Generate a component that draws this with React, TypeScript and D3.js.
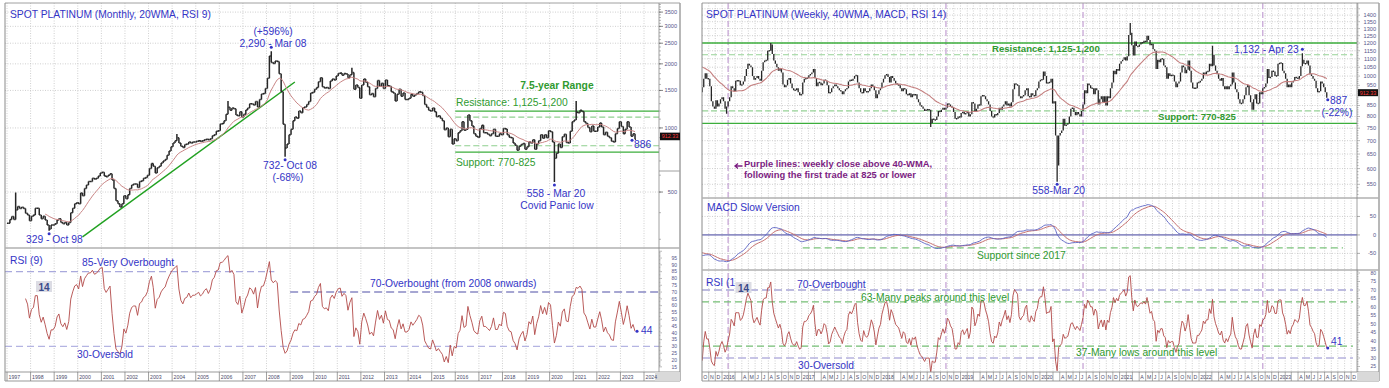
import React from "react";
import * as d3 from "d3";

const FONT = "'Liberation Sans', Arial, Helvetica, sans-serif";
const BLUE = "#3434c6";
const GREEN = "#2f9a2f";
const GREEN_LINE = "#3cae3c";
const PURPLE = "#7c1e82";
const BAR = "#262626";

// ---------------- LEFT: monthly spot platinum closes ----------------
const monthlyStartYear = 1997;
const monthly1997 = [357, 372, 384, 372, 412, 428, 419, 424, 418, 398, 390, 367];
const monthly1998 = [385, 390, 420, 420, 390, 375, 385, 370, 350, 335, 350, 350];
const monthly1999 = [355, 370, 375, 360, 355, 360, 350, 360, 400, 420, 440, 445];
const monthly2000 = [440, 495, 480, 520, 540, 560, 560, 580, 575, 580, 595, 615];
const monthly2001 = [620, 595, 590, 600, 610, 570, 520, 455, 440, 425, 440, 480];
const monthly2002 = [465, 485, 520, 540, 545, 545, 525, 560, 565, 580, 585, 600];
const monthly2003 = [645, 680, 660, 615, 650, 660, 685, 700, 710, 745, 780, 815];
const monthly2004 = [850, 870, 900, 850, 820, 810, 835, 840, 860, 850, 860, 860];
const monthly2005 = [865, 870, 865, 870, 880, 885, 880, 890, 920, 930, 965, 970];
const monthly2006 = [1045, 1050, 1080, 1160, 1250, 1210, 1240, 1230, 1150, 1140, 1190, 1125];
const monthly2007 = [1160, 1215, 1240, 1300, 1295, 1280, 1330, 1255, 1360, 1445, 1450, 1530];
const monthly2008 = [1710, 2180, 2030, 2005, 2065, 2050, 1795, 1480, 1040, 805, 840, 930];
const monthly2009 = [985, 1080, 1125, 1110, 1200, 1180, 1245, 1255, 1290, 1330, 1460, 1470];
const monthly2010 = [1520, 1550, 1650, 1720, 1560, 1540, 1550, 1530, 1660, 1700, 1680, 1755];
const monthly2011 = [1800, 1810, 1770, 1800, 1790, 1720, 1780, 1820, 1520, 1590, 1550, 1380];
const monthly2012 = [1590, 1700, 1640, 1560, 1430, 1450, 1400, 1530, 1670, 1570, 1620, 1530];
const monthly2013 = [1680, 1580, 1570, 1480, 1460, 1340, 1440, 1520, 1410, 1460, 1360, 1360];
const monthly2014 = [1380, 1440, 1410, 1430, 1450, 1480, 1470, 1420, 1290, 1250, 1210, 1200];
const monthly2015 = [1240, 1190, 1130, 1140, 1110, 1080, 980, 1000, 910, 985, 840, 890];
const monthly2016 = [870, 950, 970, 1070, 975, 985, 1150, 1080, 1020, 940, 915, 905];
const monthly2017 = [995, 1030, 950, 950, 935, 920, 940, 985, 915, 915, 940, 930];
const monthly2018 = [995, 990, 930, 905, 900, 850, 830, 785, 820, 835, 845, 795];
const monthly2019 = [815, 860, 850, 880, 795, 840, 870, 930, 895, 930, 900, 970];
const monthly2020 = [960, 860, 720, 760, 840, 810, 910, 935, 855, 850, 965, 1070];
const monthly2021 = [1090, 1185, 1180, 1210, 1195, 1070, 1050, 1005, 960, 1020, 965, 965];
const monthly2022 = [1010, 1055, 1010, 930, 955, 915, 900, 865, 860, 940, 995, 1070];
const monthly2023 = [1015, 940, 985, 1070, 1010, 915, 940, 886];

// intramonth extremes visible on the chart
const monthlyExtremes = [
  { month: "1997-05", high: 497 },
  { month: "1998-10", low: 329 },
  { month: "2004-03", high: 937 },
  { month: "2006-05", high: 1340 },
  { month: "2008-03", high: 2290 },
  { month: "2008-10", low: 732 },
  { month: "2011-08", high: 1918 },
  { month: "2020-03", low: 558 },
  { month: "2021-02", high: 1340 },
];
const monthlyTrendline = [
  { month: "2000-03", price: 308 },
  { month: "2009-03", price: 1644 },
];
const rangeLevelsSolid = [770, 1200];
const rangeLevelsDashed = [825, 1125];
const monthlyRangeStart = "2016-01";
const monthlyPriceTicks = [500, 1000, 1500, 2000, 2500, 3000, 3500];
const monthlyRsiTicks = [95, 90, 85, 80, 75, 70, 65, 60, 55, 50, 45, 40, 35, 30, 25, 20, 15];
const monthlyYearLabels = d3.range(1997, 2025);

// ---------------- RIGHT: weekly spot platinum closes (Fridays) ----------------
// 2015: first 39 weeks (Jan 2 - Sep 25) precede the visible window
const weekly2015 = [
  1210, 1245, 1265, 1280, 1260, 1230, 1200, 1165, 1195, 1170, 1115, 1120, 1140,
  1150, 1160, 1160, 1140, 1150, 1150, 1140, 1120, 1110, 1110, 1090, 1090, 1080,
  1080, 1040, 990, 980, 990, 990, 1000, 1000, 1020, 1010, 980, 970, 915,
  940, 985, 1015, 985, 985, 945, 870, 845, 835, 875, 845, 860, 880,
];
const weekly2016 = [
  890, 870, 835, 845, 870, 890, 945, 935, 920, 975, 975, 975, 950,
  955, 970, 1000, 1040, 1070, 1060, 1050, 1000, 980, 990, 1000, 985, 975,
  1030, 1080, 1090, 1090, 1150, 1150, 1190, 1130, 1090, 1070, 1050, 1030, 1045, 1020,
  955, 940, 950, 980, 990, 960, 935, 925, 925, 935, 915, 900, 905,
];
const weekly2017 = [
  965, 985, 985, 990, 1005, 1010, 1020, 1040, 990, 945, 965, 965, 950,
  960, 980, 975, 950, 910, 915, 935, 945, 955, 945, 935, 925, 920,
  905, 920, 930, 935, 970, 980, 975, 985, 1000, 1005, 965, 935, 915,
  910, 935, 920, 915, 920, 935, 955, 945, 925, 885, 905, 925, 935,
];
const weekly2018 = [
  965, 985, 1005, 1010, 995, 965, 1000, 990, 975, 960, 955, 950, 935,
  920, 935, 930, 905, 900, 910, 890, 905, 900, 905, 880, 865, 850,
  845, 835, 825, 830, 830, 830, 772, 790, 785, 785, 800, 825, 820,
  830, 840, 830, 840, 860, 855, 845, 840, 820, 790, 790, 800, 795,
];
const weekly2019 = [
  815, 820, 810, 815, 820, 800, 810, 865, 860, 825, 835, 855, 850,
  895, 900, 895, 880, 870, 855, 825, 800, 795, 810, 805, 815, 840,
  830, 845, 855, 870, 850, 860, 845, 865, 930, 960, 955, 950, 895,
  885, 895, 900, 925, 935, 895, 890, 910, 900, 895, 925, 935, 970,
];
const weekly2020 = [
  980, 980, 1025, 1000, 960, 965, 965, 985, 860, 870, 720, 610, 720,
  730, 740, 790, 760, 765, 770, 800, 835, 840, 820, 805, 820, 810,
  800, 825, 855, 925, 910, 960, 950, 935, 935, 905, 935, 925, 855,
  880, 895, 865, 895, 850, 895, 885, 935, 965, 1030, 1010, 1040, 1030,
];
const weekly2021 = [
  1070, 1085, 1095, 1110, 1090, 1115, 1255, 1270, 1185, 1120, 1210, 1180, 1175,
  1190, 1205, 1200, 1215, 1205, 1250, 1220, 1185, 1195, 1160, 1150, 1040, 1095,
  1080, 1100, 1100, 1060, 1050, 985, 1015, 1000, 1005, 1005, 970, 940, 960,
  970, 1020, 1060, 1050, 1015, 1035, 1090, 1030, 965, 935, 935, 935, 965, 965,
];
const weekly2022 = [
  975, 985, 1020, 1010, 1025, 1025, 1070, 1055, 1125, 1060, 1030, 1010,
  985, 975, 990, 945, 930, 945, 930, 945, 955, 1020, 965, 930, 915,
  880, 860, 860, 880, 900, 940, 950, 900, 865, 830, 880, 905, 860, 860,
  915, 905, 935, 940, 960, 1040, 990, 995, 1030, 1025, 1000, 1000, 1070,
];
const weekly2023 = [
  1075, 1075, 1030, 1015, 985, 940, 955, 940, 965, 975, 995, 990, 985,
  1000, 1055, 1095, 1070, 1070, 1090, 1060, 1010, 1000, 985, 975, 935, 915,
  920, 970, 960, 940, 915, 887,
];
const weeklyExtremes = [
  { week: "2016-01-22", low: 812 },
  { week: "2016-08-12", high: 1200 },
  { week: "2018-08-17", low: 755 },
  { week: "2020-03-20", low: 558 },
  { week: "2021-02-19", high: 1340 },
  { week: "2022-03-04", high: 1183 },
  { week: "2023-04-21", high: 1134 },
];
const purpleLineWeeks = ["2016-01-29", "2018-10-26", "2020-07-17", "2022-10-21"];
const weeklyPriceTicks = [550, 600, 650, 700, 750, 800, 850, 950, 1000, 1050, 1100, 1150, 1200, 1250, 1300, 1350, 1400];
const weeklyGridPrices = d3.range(550, 1500, 50);
const macdTicks = [50, 0, -50];
const macdSupport = -35;
const macdSupportStart = "2017-01-06";
const weeklyRsiTicks = [80, 75, 70, 65, 60, 55, 50, 45, 40, 35, 30, 25];
const monthLetters = ["J", "F", "M", "A", "M", "J", "J", "A", "S", "O", "N", "D"];
const lastPriceTag = "912.33";

// ---------------- helpers ----------------
const monthlyCloses = [
  ...monthly1997, ...monthly1998, ...monthly1999, ...monthly2000, ...monthly2001, ...monthly2002,
  ...monthly2003, ...monthly2004, ...monthly2005, ...monthly2006, ...monthly2007, ...monthly2008,
  ...monthly2009, ...monthly2010, ...monthly2011, ...monthly2012, ...monthly2013, ...monthly2014,
  ...monthly2015, ...monthly2016, ...monthly2017, ...monthly2018, ...monthly2019, ...monthly2020,
  ...monthly2021, ...monthly2022, ...monthly2023,
];
const weeklyCloses = [
  ...weekly2015, ...weekly2016, ...weekly2017, ...weekly2018, ...weekly2019,
  ...weekly2020, ...weekly2021, ...weekly2022, ...weekly2023,
];
const WEEK0 = Date.UTC(2015, 0, 2);
const DAY = 864e5;
const monthIdx = (s: string) => {
  const [y, m] = s.split("-").map(Number);
  return (y - monthlyStartYear) * 12 + (m - 1);
};
const weekIdx = (s: string) => {
  const [y, m, d] = s.split("-").map(Number);
  return Math.round((Date.UTC(y, m - 1, d) - WEEK0) / (7 * DAY));
};
const utc = (s: string) => {
  const [y, m, d] = s.split("-").map(Number);
  return new Date(Date.UTC(y, m - 1, d || 1));
};

type Bar = { date: Date; o: number; h: number; l: number; c: number };
function makeBars(closes: number[], dateOf: (i: number) => Date): Bar[] {
  return closes.map((c, i) => {
    const o = i > 0 ? closes[i - 1] : c;
    return { date: dateOf(i), o, c, h: Math.max(o, c), l: Math.min(o, c) };
  });
}
function rsi(c: number[], n: number): (number | null)[] {
  const out: (number | null)[] = c.map(() => null);
  let g = 0, l = 0;
  for (let i = 1; i <= n; i++) {
    const d = c[i] - c[i - 1];
    if (d > 0) g += d; else l -= d;
  }
  g /= n; l /= n;
  out[n] = l === 0 ? 100 : 100 - 100 / (1 + g / l);
  for (let i = n + 1; i < c.length; i++) {
    const d = c[i] - c[i - 1];
    g = (g * (n - 1) + Math.max(d, 0)) / n;
    l = (l * (n - 1) + Math.max(-d, 0)) / n;
    out[i] = l === 0 ? 100 : 100 - 100 / (1 + g / l);
  }
  return out;
}
function lwma(c: number[], n: number): (number | null)[] {
  const den = (n * (n + 1)) / 2;
  return c.map((_, i) => {
    if (i < n - 1) return null;
    let s = 0;
    for (let k = 0; k < n; k++) s += (n - k) * c[i - k];
    return s / den;
  });
}
function ema(c: number[], n: number): number[] {
  const a = 2 / (n + 1);
  const out: number[] = [];
  c.forEach((v, i) => out.push(i === 0 ? v : a * v + (1 - a) * out[i - 1]));
  return out;
}

const monthlyBars = makeBars(monthlyCloses, (i) => new Date(Date.UTC(monthlyStartYear, i, 15)));
monthlyExtremes.forEach((e: any) => {
  const b = monthlyBars[monthIdx(e.month)];
  if (e.high) b.h = Math.max(b.h, e.high);
  if (e.low) b.l = Math.min(b.l, e.low);
});
const weeklyBars = makeBars(weeklyCloses, (i) => new Date(WEEK0 + i * 7 * DAY));
weeklyExtremes.forEach((e: any) => {
  const b = weeklyBars[weekIdx(e.week)];
  if (e.high) b.h = Math.max(b.h, e.high);
  if (e.low) b.l = Math.min(b.l, e.low);
});

// indicator settings ("slow" MACD uses longer EMAs)
const MACD_FAST = 26, MACD_SLOW = 52, MACD_SIGNAL = 9;
const monthlyMA = lwma(monthlyCloses, 20);
const monthlyRSI = rsi(monthlyCloses, 9);
const weeklyMA = lwma(weeklyCloses, 40);
const weeklyRSI = rsi(weeklyCloses, 14);
const emaFast = ema(weeklyCloses, MACD_FAST);
const emaSlow = ema(weeklyCloses, MACD_SLOW);
const macdLine = emaFast.map((v, i) => v - emaSlow[i]);
const signalLine = ema(macdLine, MACD_SIGNAL);
const VISIBLE_W = weekIdx("2015-10-02");

// ---------------- component ----------------
export default function App() {
  const L = { x0: 5, x1: 659, top: 3, pBot: 248, rBot: 372, dBot: 381, edge: 680 };
  const R = { x0: 702, x1: 1357, top: 3, pBot: 198, mBot: 270, rBot: 372, dBot: 381, edge: 1379 };

  const xM = d3.scaleUtc().domain([utc("1996-12-01"), utc("2024-08-20")]).range([L.x0, L.x1]);
  const yM = d3.scaleLog().domain([273, 3862]).range([L.pBot, L.top]);
  const yMR = d3.scaleLinear().domain([11.2, 102.4]).range([L.rBot, L.pBot]);

  const xW = d3.scaleUtc().domain([utc("2015-10-01"), utc("2023-12-28")]).range([R.x0, R.x1]);
  const yW = d3.scaleLog().domain([510, 1497]).range([R.pBot, R.top]);
  const yMacd = d3.scaleLinear().domain([-95, 100]).range([R.mBot, R.pBot]);
  const yWR = d3.scaleLinear().domain([21.76, 81.76]).range([R.rBot, R.mBot]);

  const barPath = (bars: Bar[], x: any, y: any, tick: number) => {
    let p = "";
    bars.forEach((b) => {
      const xx = x(b.date);
      let y1 = y(b.h), y2 = y(b.l);
      if (y2 - y1 < 1.5) { const m = (y1 + y2) / 2; y1 = m - 0.75; y2 = m + 0.75; }
      p += `M${xx.toFixed(2)},${y1.toFixed(2)}V${y2.toFixed(2)}`;
      if (tick > 0) {
        p += `M${(xx - tick).toFixed(2)},${y(b.o).toFixed(2)}H${xx.toFixed(2)}`;
        p += `M${xx.toFixed(2)},${y(b.c).toFixed(2)}H${(xx + tick).toFixed(2)}`;
      }
    });
    return p;
  };

  const lineFrom = (vals: (number | null)[], dates: Bar[], x: any, y: any, from: number) =>
    d3.line<number>()
      .defined((i) => vals[i] != null)
      .x((i) => x(dates[i].date))
      .y((i) => y(vals[i] as number))(d3.range(from, vals.length)) || "";

  const mYearTicks = monthlyYearLabels.map((y) => ({ y, x: xM(new Date(Date.UTC(y, 0, 1))) }));
  const mPk = monthlyBars[monthIdx("2008-03")];
  const mLow98 = monthlyBars[monthIdx("1998-10")];
  const mLow08 = monthlyBars[monthIdx("2008-10")];
  const mLow20 = monthlyBars[monthIdx("2020-03")];
  const mLast = monthlyBars[monthlyBars.length - 1];
  const mRangeX = xM(utc(monthlyRangeStart + "-01"));
  const tl = monthlyTrendline.map((p) => [xM(monthlyBars[monthIdx(p.month)].date), yM(p.price)]);
  const mLastRsi = monthlyRSI[monthlyRSI.length - 1] as number;

  const wVisible = weeklyBars.slice(VISIBLE_W);
  const wMonths: Date[] = d3.utcMonths(utc("2015-10-01"), utc("2024-01-01"));
  const wLast = weeklyBars[weeklyBars.length - 1];
  const wLow20 = weeklyBars[weekIdx("2020-03-20")];
  const wApr23 = weeklyBars[weekIdx("2023-04-21")];
  const wLastRsi = weeklyRSI[weeklyRSI.length - 1] as number;

  const gridStyle = { stroke: "#c4c4c4", strokeWidth: 0.8, strokeDasharray: "1,1.5" };
  const axisLabel = { fontFamily: FONT, fontSize: 5.6, fill: "#55558a" } as any;

  const minorLeftPrice = d3.range(300, 3900, 100);
  const minorWPrice = d3.range(520, 1500, 10);

  return (
    <svg width={1389} height={388} viewBox="0 0 1389 388"
      style={{ position: "absolute", left: 0, top: 0, display: "block", background: "#fff" }}
      fontFamily={FONT}>
      <defs>
        <clipPath id="clipLP"><rect x={L.x0} y={L.top} width={L.x1 - L.x0} height={L.pBot - L.top} /></clipPath>
        <clipPath id="clipLR"><rect x={L.x0} y={L.pBot} width={L.x1 - L.x0} height={L.rBot - L.pBot} /></clipPath>
        <clipPath id="clipRP"><rect x={R.x0} y={R.top} width={R.x1 - R.x0} height={R.pBot - R.top} /></clipPath>
        <clipPath id="clipRM"><rect x={R.x0} y={R.pBot} width={R.x1 - R.x0} height={R.mBot - R.pBot} /></clipPath>
        <clipPath id="clipRR"><rect x={R.x0} y={R.mBot} width={R.x1 - R.x0} height={R.rBot - R.mBot} /></clipPath>
      </defs>
      <rect x={0} y={0} width={1389} height={388} fill="#fff" />

      {/* ================= LEFT PANEL ================= */}
      <g>
        {mYearTicks.filter((t) => t.x > L.x0 + 1 && t.x < L.x1).map((t) => (
          <line key={"lg" + t.y} x1={t.x} x2={t.x} y1={L.top} y2={L.rBot} {...gridStyle} />
        ))}
        {monthlyPriceTicks.map((p) => (
          <line key={"lh" + p} x1={L.x0} x2={L.x1} y1={yM(p)} y2={yM(p)} {...gridStyle} />
        ))}

        <line x1={tl[0][0]} y1={tl[0][1]} x2={tl[1][0]} y2={tl[1][1]} stroke="#21a121" strokeWidth={1.4} />

        {rangeLevelsSolid.map((v) => (
          <line key={"ls" + v} x1={mRangeX} x2={L.x1} y1={yM(v)} y2={yM(v)} stroke={GREEN_LINE} strokeWidth={1.3} />
        ))}
        {rangeLevelsDashed.map((v) => (
          <line key={"ld" + v} x1={mRangeX} x2={L.x1} y1={yM(v)} y2={yM(v)} stroke="#8fcf8f" strokeWidth={1.2} strokeDasharray="6,3" />
        ))}

        <g clipPath="url(#clipLP)">
          <path d={barPath(monthlyBars, xM, yM, 0.9)} stroke={BAR} strokeWidth={1.5} fill="none" />
          <path d={lineFrom(monthlyMA, monthlyBars, xM, yM, 0)} stroke="#c98585" strokeWidth={1} fill="none" />
        </g>

        <line x1={L.x0} x2={xM(utc("2008-05-01"))} y1={yMR(85)} y2={yMR(85)} stroke="#a9a9dc" strokeWidth={1.2} strokeDasharray="7,4" />
        <line x1={L.x0} x2={L.x1} y1={yMR(30)} y2={yMR(30)} stroke="#b4b4e2" strokeWidth={1.2} strokeDasharray="7,4" />
        <line x1={xM(utc("2009-01-01"))} x2={L.x1} y1={yMR(70)} y2={yMR(70)} stroke="#4e4ea6" strokeWidth={1.1} strokeDasharray="8,4" />
        <g clipPath="url(#clipLR)">
          <path d={lineFrom(monthlyRSI, monthlyBars, xM, yMR, 9)} stroke="#b24a48" strokeWidth={0.9} fill="none" />
        </g>

        <line x1={L.x0} x2={L.edge} y1={L.top} y2={L.top} stroke="#a0a0a0" />
        <line x1={L.x0} x2={L.x0} y1={L.top} y2={L.dBot} stroke="#8a8a8a" />
        <line x1={L.edge} x2={L.edge} y1={L.top} y2={L.dBot} stroke="#a0a0a0" strokeWidth={1.5} />
        <line x1={L.x0} x2={L.edge} y1={L.pBot} y2={L.pBot} stroke="#b0b0b0" strokeWidth={1.5} />
        <line x1={L.x1} x2={L.edge} y1={171} y2={171} stroke="#a0a0a0" />
        <line x1={L.x1} x2={L.x1} y1={L.top} y2={L.rBot} stroke="#888" strokeWidth={0.8} />

        {minorLeftPrice.map((p) => (
          <line key={"lm" + p} x1={L.x1} x2={L.x1 + 2} y1={yM(p)} y2={yM(p)} stroke="#777" strokeWidth={0.5} />
        ))}
        {monthlyPriceTicks.map((p) => (
          <g key={"lt" + p}>
            <line x1={L.x1} x2={L.x1 + 4} y1={yM(p)} y2={yM(p)} stroke="#555" strokeWidth={0.7} />
            <text x={L.edge - 3} y={yM(p) + 2} textAnchor="end" {...axisLabel}>{p}</text>
          </g>
        ))}
        <rect x={L.x1 + 1} y={yM(+lastPriceTag) - 3.8} width={20} height={7.6} fill="#111" />
        <text x={L.x1 + 11} y={yM(+lastPriceTag) + 2} textAnchor="middle" fontSize={5.4} fill="#ff3b3b">{lastPriceTag}</text>

        {d3.range(15, 101, 1).map((v) => (
          <line key={"lrm" + v} x1={L.x1} x2={L.x1 + (v % 5 === 0 ? 3 : 1.5)} y1={yMR(v)} y2={yMR(v)} stroke="#777" strokeWidth={0.5} />
        ))}
        {monthlyRsiTicks.map((v) => (
          <text key={"lrt" + v} x={L.edge - 3} y={yMR(v) + 1.8} textAnchor="end" {...axisLabel} fontSize={5}>{v}</text>
        ))}

        <line x1={L.x0} x2={L.edge} y1={L.rBot} y2={L.rBot} stroke="#999" />
        <line x1={L.x0} x2={L.edge} y1={L.dBot} y2={L.dBot} stroke="#999" />
        <rect x={655} y={L.rBot} width={L.edge - 655} height={L.dBot - L.rBot} fill="#d9d9d9" />
        {mYearTicks.map((t) => (
          <g key={"ly" + t.y}>
            <line x1={t.x} x2={t.x} y1={L.rBot} y2={L.dBot} stroke="#777" strokeWidth={0.7} />
            <text x={t.x + 1.5} y={L.rBot + 6.6} fontSize={5.2} fill="#4a4a6a">{t.y}</text>
          </g>
        ))}

        <text x={10} y={18} fontSize={10.3} fill={BLUE}>SPOT PLATINUM (Monthly, 20WMA, RSI 9)</text>
        <text x={273} y={35} fontSize={10.3} fill={BLUE} textAnchor="middle">(+596%)</text>
        <text x={273} y={46.5} fontSize={10.3} fill={BLUE} textAnchor="middle">2,290 - Mar 08</text>
        <circle cx={xM(mPk.date)} cy={yM(mPk.h) - 4} r={1.5} fill={BLUE} />
        <text x={290} y={169} fontSize={10.3} fill={BLUE} textAnchor="middle">732- Oct 08</text>
        <text x={288} y={181} fontSize={10.3} fill={BLUE} textAnchor="middle">(-68%)</text>
        <circle cx={xM(mLow08.date)} cy={yM(mLow08.l) + 3} r={1.5} fill={BLUE} />
        <text x={26} y={242.5} fontSize={10.3} fill={BLUE}>329 - Oct 98</text>
        <circle cx={xM(mLow98.date)} cy={yM(mLow98.l) + 3} r={1.5} fill={BLUE} />
        <text x={557} y={89} fontSize={10.3} fill={GREEN} fontWeight="bold" textAnchor="middle">7.5-year Range</text>
        <text x={456} y={106} fontSize={10.3} fill={GREEN}>Resistance: 1,125-1,200</text>
        <text x={456} y={166} fontSize={10.3} fill={GREEN}>Support: 770-825</text>
        <text x={556} y={197} fontSize={10.3} fill={BLUE} textAnchor="middle">558 - Mar 20</text>
        <text x={557} y={209} fontSize={10.3} fill={BLUE} textAnchor="middle">Covid Panic low</text>
        <circle cx={xM(mLow20.date)} cy={yM(mLow20.l) + 3} r={1.5} fill={BLUE} />
        <circle cx={xM(mLast.date) - 3} cy={yM(mLast.c) + 1} r={1.5} fill={BLUE} />
        <text x={634} y={148} fontSize={10.3} fill={BLUE}>886</text>

        <text x={10} y={264} fontSize={10.3} fill={BLUE}>RSI (9)</text>
        <text x={82} y={266} fontSize={10.3} fill={BLUE}>85-Very Overbought</text>
        <rect x={36} y={281} width={16} height={11} fill="#dcdce4" />
        <text x={44} y={290.5} fontSize={10} fill="#3a4a8a" textAnchor="middle" fontWeight="bold">14</text>
        <text x={77} y={358} fontSize={10.3} fill={BLUE}>30-Oversold</text>
        <text x={370} y={287} fontSize={10.3} fill={BLUE}>70-Overbought (from 2008 onwards)</text>
        <circle cx={xM(mLast.date) + 2} cy={yMR(mLastRsi)} r={1.5} fill={BLUE} />
        <text x={641} y={334} fontSize={10.3} fill={BLUE}>44</text>
      </g>

      {/* ================= RIGHT PANEL ================= */}
      <g>
        {wMonths.filter((d) => xW(d) > R.x0 + 1 && xW(d) < R.x1).map((d) => (
          <line key={"rg" + d.getTime()} x1={xW(d)} x2={xW(d)} y1={R.top} y2={R.rBot} {...gridStyle} />
        ))}
        {weeklyGridPrices.map((p) => (
          <line key={"rh" + p} x1={R.x0} x2={R.x1} y1={yW(p)} y2={yW(p)} {...gridStyle} />
        ))}
        {[50, -50].map((v) => (
          <line key={"rmh" + v} x1={R.x0} x2={R.x1} y1={yMacd(v)} y2={yMacd(v)} {...gridStyle} />
        ))}

        {purpleLineWeeks.map((w) => {
          const x = xW(utc(w));
          return <line key={"pl" + w} x1={x} x2={x} y1={R.top} y2={R.rBot} stroke="#c7a6d6" strokeWidth={1.3} strokeDasharray="6,3" />;
        })}

        {rangeLevelsSolid.map((v) => (
          <line key={"rs" + v} x1={R.x0} x2={R.x1} y1={yW(v)} y2={yW(v)} stroke={GREEN_LINE} strokeWidth={1.4} />
        ))}
        {rangeLevelsDashed.map((v) => (
          <line key={"rd" + v} x1={R.x0} x2={R.x1 - 4} y1={yW(v)} y2={yW(v)} stroke="#96d296" strokeWidth={1.2} strokeDasharray="6,3" />
        ))}

        <g clipPath="url(#clipRP)">
          <path d={barPath(wVisible, xW, yW, 0)} stroke={BAR} strokeWidth={1.3} fill="none" />
          <path d={lineFrom(weeklyMA, weeklyBars, xW, yW, VISIBLE_W)} stroke="#c47e7e" strokeWidth={1.05} fill="none" />
        </g>

        <line x1={R.x0} x2={R.x1} y1={yMacd(0)} y2={yMacd(0)} stroke="#3d3d9a" strokeWidth={1} />
        <line x1={xW(utc(macdSupportStart))} x2={R.x1 - 14} y1={yMacd(macdSupport)} y2={yMacd(macdSupport)} stroke="#7cc47c" strokeWidth={1.2} strokeDasharray="7,4" />
        <g clipPath="url(#clipRM)">
          <path d={lineFrom(signalLine, weeklyBars, xW, yMacd, VISIBLE_W)} stroke="#c56e6e" strokeWidth={1} fill="none" />
          <path d={lineFrom(macdLine, weeklyBars, xW, yMacd, VISIBLE_W)} stroke="#5a62c4" strokeWidth={0.9} fill="none" />
        </g>

        <line x1={R.x0} x2={R.x1 - 4} y1={yWR(70)} y2={yWR(70)} stroke="#a9a6d6" strokeWidth={1.3} strokeDasharray="8,4" />
        <line x1={R.x0} x2={R.x1 - 4} y1={yWR(63)} y2={yWR(63)} stroke="#74be74" strokeWidth={1.2} strokeDasharray="7,4" />
        <line x1={R.x0} x2={R.x1 - 4} y1={yWR(37)} y2={yWR(37)} stroke="#74be74" strokeWidth={1.2} strokeDasharray="7,4" />
        <line x1={R.x0} x2={R.x1 - 4} y1={yWR(30)} y2={yWR(30)} stroke="#b6b3de" strokeWidth={1.3} strokeDasharray="8,4" />
        <g clipPath="url(#clipRR)">
          <path d={lineFrom(weeklyRSI, weeklyBars, xW, yWR, VISIBLE_W)} stroke="#b24a48" strokeWidth={0.9} fill="none" />
        </g>

        <line x1={R.x0} x2={R.edge} y1={R.top} y2={R.top} stroke="#a0a0a0" />
        <line x1={R.x0} x2={R.x0} y1={R.top} y2={R.dBot} stroke="#8a8a8a" />
        <line x1={R.edge} x2={R.edge} y1={R.top} y2={R.dBot} stroke="#a0a0a0" strokeWidth={1.5} />
        <line x1={R.x0} x2={R.edge} y1={R.pBot} y2={R.pBot} stroke="#b0b0b0" strokeWidth={1.5} />
        <line x1={R.x0} x2={R.edge} y1={R.mBot} y2={R.mBot} stroke="#b0b0b0" strokeWidth={1.5} />
        <line x1={R.x1} x2={R.x1} y1={R.top} y2={R.rBot} stroke="#888" strokeWidth={0.8} />

        {minorWPrice.map((p) => (
          <line key={"rmt" + p} x1={R.x1} x2={R.x1 + (p % 50 === 0 ? 3 : 1.5)} y1={yW(p)} y2={yW(p)} stroke="#777" strokeWidth={0.5} />
        ))}
        {weeklyPriceTicks.map((p) => (
          <text key={"rpt" + p} x={R.edge - 3} y={yW(p) + 2} textAnchor="end" {...axisLabel}>{p}</text>
        ))}
        <rect x={R.x1 + 1} y={yW(+lastPriceTag) - 3.5} width={20} height={7} fill="#111" />
        <text x={R.x1 + 11} y={yW(+lastPriceTag) + 2} textAnchor="middle" fontSize={5.4} fill="#ff3b3b">{lastPriceTag}</text>
        {macdTicks.map((v) => (
          <g key={"rmk" + v}>
            <line x1={R.x1} x2={R.x1 + 3} y1={yMacd(v)} y2={yMacd(v)} stroke="#777" strokeWidth={0.6} />
            <text x={R.edge - 3} y={yMacd(v) + 2} textAnchor="end" {...axisLabel}>{v}</text>
          </g>
        ))}
        {d3.range(22, 82, 1).map((v) => (
          <line key={"rrm" + v} x1={R.x1} x2={R.x1 + (v % 5 === 0 ? 3 : 1.5)} y1={yWR(v)} y2={yWR(v)} stroke="#777" strokeWidth={0.5} />
        ))}
        {weeklyRsiTicks.map((v) => (
          <text key={"rrt" + v} x={R.edge - 3} y={yWR(v) + 1.8} textAnchor="end" {...axisLabel} fontSize={5}>{v}</text>
        ))}

        <line x1={R.x0} x2={R.edge} y1={R.rBot} y2={R.rBot} stroke="#999" />
        <line x1={R.x0} x2={R.edge} y1={R.dBot} y2={R.dBot} stroke="#999" />
        <rect x={R.x1} y={R.rBot} width={R.edge - R.x1} height={R.dBot - R.rBot} fill="#d9d9d9" />
        {wMonths.map((d) => {
          const x = xW(d);
          const m = d.getUTCMonth();
          const label = m === 0 ? String(d.getUTCFullYear()) : m === 1 || m === 2 ? "" : monthLetters[m];
          return (
            <g key={"rm" + d.getTime()}>
              {x > R.x0 + 1 && <line x1={x} x2={x} y1={R.rBot} y2={R.dBot} stroke="#777" strokeWidth={0.6} />}
              {label && <text x={x + 1.2} y={R.rBot + 6.6} fontSize={5.2} fill="#4a4a6a">{label}</text>}
            </g>
          );
        })}

        <text x={706} y={18} fontSize={10.3} fill={BLUE}>SPOT PLATINUM (Weekly, 40WMA, MACD, RSI 14)</text>
        <text x={992} y={52} fontSize={9.6} fill={GREEN} fontWeight="bold">Resistance: 1,125-1,200</text>
        <text x={1158} y={120} fontSize={9.6} fill={GREEN} fontWeight="bold">Support: 770-825</text>
        <text x={1234} y={52.5} fontSize={10.3} fill={BLUE}>1,132 - Apr 23</text>
        <circle cx={xW(wApr23.date)} cy={yW(wApr23.h) - 4} r={1.5} fill={BLUE} />
        <circle cx={xW(wLast.date) + 1} cy={yW(wLast.c) + 2} r={1.5} fill={BLUE} />
        <text x={1330} y={104} fontSize={10.3} fill={BLUE}>887</text>
        <text x={1337} y={116} fontSize={10.3} fill={BLUE} textAnchor="middle">(-22%)</text>
        <text x={1085} y={194} fontSize={10.3} fill={BLUE} textAnchor="end">558-Mar 20</text>
        <circle cx={xW(wLow20.date)} cy={yW(wLow20.l) + 2.5} r={1.5} fill={BLUE} />
        <path d="M742.5,166 H735.5 M738,163.5 L735,166 L738,168.5" stroke={PURPLE} strokeWidth={1.3} fill="none" />
        <text x={744} y={166.5} fontSize={9.4} fill={PURPLE} fontWeight="bold">Purple lines: weekly close above 40-WMA,</text>
        <text x={744} y={177.5} fontSize={9.4} fill={PURPLE} fontWeight="bold">following the first trade at 825 or lower</text>

        <text x={707} y={211} fontSize={10.3} fill={BLUE}>MACD Slow Version</text>
        <text x={977} y={259} fontSize={10.3} fill={GREEN}>Support since 2017</text>

        <text x={706} y={286} fontSize={10.3} fill={BLUE}>RSI (1</text>
        <rect x={735.5} y={282} width={16} height={11} fill="#dcdce4" />
        <text x={743.5} y={291.5} fontSize={10} fill="#3a4a8a" textAnchor="middle" fontWeight="bold">14</text>
        <text x={797} y={288} fontSize={10.3} fill={BLUE}>70-Overbought</text>
        <text x={861} y={301} fontSize={10.3} fill={GREEN}>63-Many peaks around this level</text>
        <text x={798} y={369} fontSize={10.3} fill={BLUE}>30-Oversold</text>
        <text x={1076} y={356} fontSize={10.3} fill={GREEN}>37-Many lows around this level</text>
        <circle cx={xW(wLast.date) + 1} cy={yWR(wLastRsi)} r={1.5} fill={BLUE} />
        <text x={1331} y={345} fontSize={10.3} fill={BLUE}>41</text>
      </g>
    </svg>
  );
}
